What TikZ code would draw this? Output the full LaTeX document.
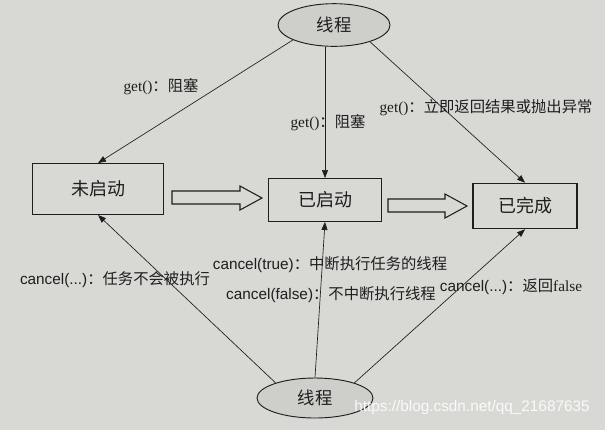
\documentclass[tikz,border=0pt]{standalone}
\usepackage{fontspec}
\setmainfont{Liberation Serif}
\setsansfont{Liberation Sans}
\newfontfamily\zhfont{Noto Sans CJK SC}
\newcommand{\zh}[1]{{\zhfont #1}}
\usepackage{xcolor}
\definecolor{Paper}{RGB}{216,216,212}
\definecolor{Ink}{RGB}{30,30,30}
\definecolor{Oval}{RGB}{206,206,202}
\definecolor{Mark}{RGB}{250,250,250}
\usetikzlibrary{arrows.meta,shapes.geometric}

\begin{document}
\begin{tikzpicture}[x=0.75pt, y=-0.75pt,
		state/.style={draw=Ink, line width=0.9pt, font=\zhfont\fontsize{13.5}{15}\selectfont, text=Ink},
		thread/.style={ellipse, draw=Ink, fill=Oval, line width=0.7pt, inner sep=0pt, font=\zhfont\fontsize{13}{15}\selectfont, text=Ink},
		call/.style={draw=Ink, line width=0.5pt, -{Triangle[length=6pt,width=4.5pt]}},
		lbl/.style={font=\fontsize{11.5}{13.5}\selectfont, text=Ink, inner sep=1pt},
		hollow/.style={draw=Ink, fill=Paper, line width=0.8pt}]
		
		% Paper
		\fill[Paper] (0,0) rectangle (605,430);
		
		% Threads
		\node[thread, minimum width=84pt, minimum height=32pt] (top) at (334,25) {线程};
		\node[thread, minimum width=87pt, minimum height=30pt] (bot) at (315,398) {线程};
		
		% States
		\node[state, minimum width=98pt, minimum height=38pt] (idle) at (98,189) {未启动};
		\node[state, minimum width=85pt, minimum height=32pt] (run) at (325,200) {已启动};
		\node[state, minimum width=78pt, minimum height=34pt] (done) at (525,206) {已完成};
		
		% Transitions
		\draw[hollow] (172,191) -- (240,191) -- (240,186) -- (262,198) -- (240,210) -- (240,204) -- (172,204) -- cycle;
		\draw[hollow] (388,199) -- (445,199) -- (445,194) -- (467,206) -- (445,218) -- (445,212) -- (388,212) -- cycle;
		
		% get()
		\draw[call] (top.200) -- (idle.north);
		\draw[call] (top.south -| run.north) -- (run.north);
		\draw[call] (top.-25) -- (done.north);
		
		\node[lbl] (g1) at (161,87) {get()\zh{：阻塞}};
		\node[lbl] (g2) at (328,123) {get()\zh{：阻塞}};
		\node[lbl] (g3) at (486,108) {get()\zh{：立即返回结果或抛出异常}};
		
		% cancel()
		\draw[call] (bot.159) -- (idle.south);
		\draw[call] (bot.north) -- (run.south);
		\draw[call] (bot.21) -- (done.south);
		
		\node[lbl] (c1) at (115,280) {\textsf{cancel(...)}\zh{：任务不会被执行}};
		\node[lbl] (c2) at (330,265) {\textsf{cancel(true)}\zh{：中断执行任务的线程}};
		\node[lbl] (c3) at (331,295) {\textsf{cancel(false)}\zh{：不中断执行线程}};
		\node[lbl] (c4) at (511,287) {\textsf{cancel(...)}\zh{：返回}false};
		
		% Watermark
		\node[font=\sffamily\fontsize{11.5}{13}\selectfont, text=Mark, inner sep=0pt] (url) at (472,408) {https://blog.csdn.net/qq\_21687635};
		
	\end{tikzpicture}
\end{document}
